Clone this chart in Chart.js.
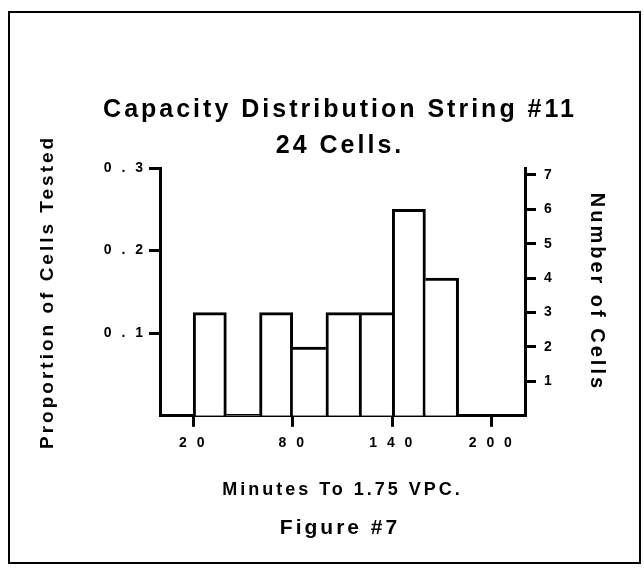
<!DOCTYPE html>
<html>
<head>
<meta charset="utf-8">
<script src="https://cdn.jsdelivr.net/npm/chart.js@4.4.1/dist/chart.umd.min.js"></script>
<style>
  html, body { margin: 0; padding: 0; background: #fff; }
  #wrap { position: relative; width: 644px; height: 573px; }
  #frame { position: absolute; left: 8px; top: 11px; width: 629px; height: 549px; border: 2px solid #000; pointer-events: none; }
</style>
</head>
<body>
<div id="wrap">
  <canvas id="myChart" width="644" height="573"></canvas>
  <div id="frame"></div>
</div>
<script>
// data
const binStarts = [20, 40, 60, 80, 100, 120, 140, 160];
const binWidth = 20;
const cellCounts = [3, 0, 3, 2, 3, 3, 6, 4];
const totalCells = 24;
const xTicks = [20, 80, 140, 200];
const leftTicks = [0.1, 0.2, 0.3];
const rightTicks = [1, 2, 3, 4, 5, 6, 7];

// "140" -> "1 4 0", like the typewriter style ticks
const spaced = v => String(v).split('').join(' ');

// canvas letter spacing, has to be set again after every resize
const spacing = {
    id: 'spacing',
    beforeLayout(chart) { chart.ctx.letterSpacing = '3px'; },
    beforeDraw(chart) { chart.ctx.letterSpacing = '3px'; }
};

Chart.defaults.font.family = "'Liberation Sans', Arial, sans-serif";
Chart.defaults.font.weight = 'bold';
Chart.defaults.color = '#000';

const axisGrid = {
    color: '#000',
    lineWidth: 3,
    drawOnChartArea: false,
    offset: false,
    tickLength: 11
};
const axisBorder = { color: '#000', width: 3 };

// the taller of two neighbouring bars draws the shared edge
const barEdges = ctx => {
    const i = ctx.dataIndex;
    const h = cellCounts[i];
    if (!h) return 0;
    const prev = i > 0 ? cellCounts[i - 1] : 0;
    const next = i < cellCounts.length - 1 ? cellCounts[i + 1] : 0;
    return { top: 3, left: prev <= h ? 3 : 0, right: next < h ? 3 : 0, bottom: 0 };
};

// config
const config = {
    type: 'bar',
    data: {
        datasets: [{
            data: binStarts.map((s, i) => ({ x: s + binWidth / 2, y: cellCounts[i] })),
            yAxisID: 'yR',
            backgroundColor: '#fff',
            borderColor: '#000',
            borderWidth: barEdges,
            borderSkipped: false,
            barPercentage: 1,
            categoryPercentage: 1
        }]
    },
    options: {
        responsive: false,
        animation: false,
        layout: { padding: { left: 36, right: 0, top: 0, bottom: 22 } },
        plugins: {
            legend: { display: false },
            tooltip: { enabled: false },
            title: {
                display: true,
                text: ['Capacity Distribution String #11', '24 Cells.'],
                font: { size: 25, lineHeight: 1.44 },
                padding: { top: 92, bottom: 4 }
            },
            subtitle: {
                display: true,
                position: 'bottom',
                text: 'Figure #7',
                font: { size: 21, weight: 'bold' },
                color: '#000',
                padding: { top: 10, bottom: 10 }
            }
        },
        scales: {
            x: {
                type: 'linear',
                z: 1,
                min: 0,
                max: 220,
                offset: false,
                afterBuildTicks: s => { s.ticks = xTicks.map(v => ({ value: v })); },
                afterFit: s => { s.height = 90; },
                ticks: { callback: v => spaced(v), font: { size: 14 }, padding: 8, maxRotation: 0, autoSkip: false },
                grid: axisGrid,
                border: axisBorder,
                title: { display: true, text: 'Minutes To 1.75 VPC.', font: { size: 18 }, padding: { top: 0, bottom: 5 } }
            },
            yL: {
                position: 'left',
                z: 1,
                min: 0,
                max: 0.3,
                afterBuildTicks: s => { s.ticks = leftTicks.map(v => ({ value: v })); },
                afterFit: s => { s.width = 124; },
                ticks: { callback: v => spaced(v), font: { size: 14 }, padding: 3 },
                grid: axisGrid,
                border: axisBorder,
                title: { display: true, text: 'Proportion of Cells Tested', font: { size: 19, lineHeight: 1 }, padding: { top: 2, bottom: 0 } }
            },
            yR: {
                position: 'right',
                z: 1,
                min: 0,
                max: 0.3 * totalCells,
                afterBuildTicks: s => { s.ticks = rightTicks.map(v => ({ value: v })); },
                afterFit: s => { s.width = 119; },
                ticks: { font: { size: 14 }, padding: 8 },
                grid: axisGrid,
                border: axisBorder,
                title: { display: true, text: 'Number of Cells', font: { size: 20, lineHeight: 1 }, padding: { top: 37, bottom: 0 } }
            }
        }
    },
    plugins: [spacing]
};

// render init block
const myChart = new Chart(document.getElementById('myChart'), config);
</script>
</body>
</html>
